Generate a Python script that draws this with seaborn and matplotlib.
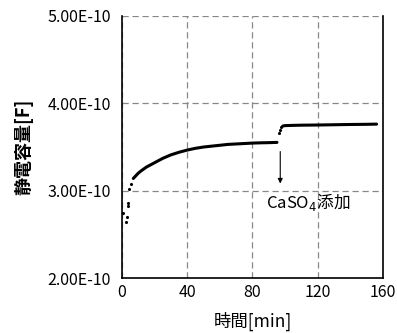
import matplotlib
matplotlib.use("Agg")
import matplotlib.pyplot as plt
import seaborn as sns
import pandas as pd
from matplotlib.ticker import FuncFormatter

# early scattered points (before the curve settles)
early_x = [0.8, 2.5, 3.1, 3.5, 3.9, 4.5, 5.7]
early_y = [2.74, 2.64, 2.70, 2.83, 2.86, 3.02, 3.08]

# main growth curve (dense dots, drawn as a line)
curve_x = [7, 8, 10, 12, 15, 20, 25, 30, 35, 40, 45, 50, 55, 60, 65, 70, 75, 80, 85, 90, 95]
curve_y = [3.14, 3.16, 3.20, 3.23, 3.27, 3.32, 3.37, 3.41, 3.44, 3.465, 3.485, 3.50, 3.51,
           3.52, 3.53, 3.535, 3.54, 3.545, 3.548, 3.55, 3.553]

# jump right after CaSO4 is added
jump_x = [96.0, 96.6, 97.4]
jump_y = [3.66, 3.70, 3.73]

# plateau after addition
after_x = [98.5, 100, 105, 110, 120, 130, 140, 150, 156]
after_y = [3.74, 3.745, 3.748, 3.75, 3.752, 3.755, 3.758, 3.76, 3.762]

x_ticks = [0, 40, 80, 120, 160]
y_ticks = [2.0, 3.0, 4.0, 5.0]

sns.set_theme(style="white")
plt.rcParams['font.family'] = ['Noto Sans CJK JP', 'DejaVu Sans']
plt.rcParams['mathtext.fontset'] = 'dejavusans'

fig = plt.figure(figsize=(3.97, 3.33), dpi=100)
ax = fig.add_axes([0.307, 0.165, 0.658, 0.787])

dots = pd.DataFrame({"t": early_x + jump_x, "c": early_y + jump_y})
sns.scatterplot(data=dots, x="t", y="c", ax=ax, color="black", s=5, linewidth=0)
sns.lineplot(x=curve_x, y=curve_y, ax=ax, color="black", lw=2.2)
sns.lineplot(x=after_x, y=after_y, ax=ax, color="black", lw=2.2)

ax.set_xlim(0, 160)
ax.set_ylim(2.0, 5.0)
ax.set_xticks(x_ticks)
ax.set_yticks(y_ticks)
ax.yaxis.set_major_formatter(FuncFormatter(lambda v, p: f"{v:.2f}E-10"))
ax.tick_params(axis="y", length=0, labelsize=11.5, colors="black", pad=8)
ax.tick_params(axis="x", length=0, labelsize=11.5, colors="black", pad=4)

ax.grid(True, color="#888888", linestyle=(0, (5, 3)), lw=0.9)
for side in ["left", "bottom", "right"]:
    ax.spines[side].set_color("black")
    ax.spines[side].set_linewidth(1.2)
ax.spines["top"].set_visible(False)

ax.set_xlabel("時間[min]", fontsize=12.5, color="black", labelpad=8)
ax.set_ylabel("静電容量[F]", fontsize=13, color="black", labelpad=10, fontweight="bold")

ax.annotate("", xy=(97, 3.05), xytext=(97, 3.48),
            arrowprops=dict(arrowstyle="-|>", color="black", lw=0.8, mutation_scale=7))
ax.text(88.5, 2.87, "CaSO$_4$添加", fontsize=12, color="black", va="center", ha="left")

plt.savefig("out.png", dpi=100)
plt.close()
